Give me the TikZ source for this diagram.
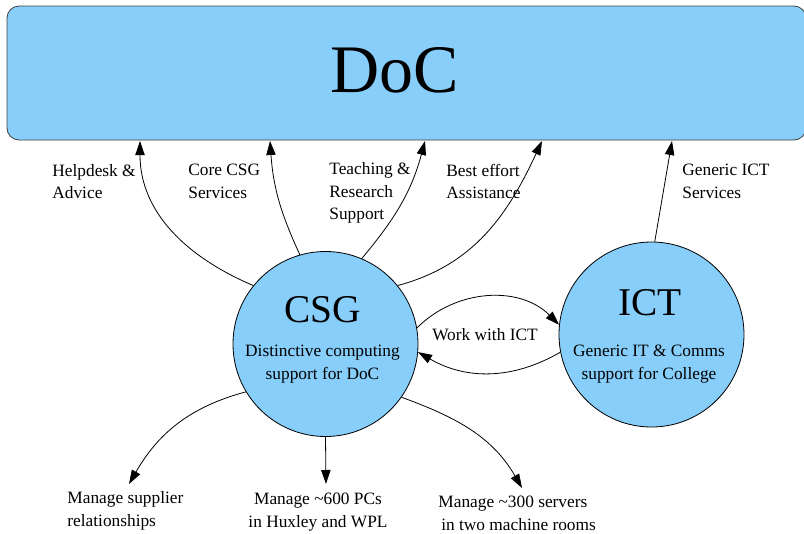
\documentclass[tikz,border=0pt]{standalone}
\usepackage{fontspec}
\setmainfont{Liberation Serif}
\usetikzlibrary{arrows.meta}
\definecolor{skyfill}{HTML}{87CEFA}

\begin{document}
\begin{tikzpicture}[x=0.75pt, y=-0.75pt, line width=0.6pt,
		hub/.style={circle, draw, fill=skyfill, minimum size=138.75pt, inner sep=0pt},
		docbox/.style={rectangle, rounded corners=9pt, draw=black!75, fill=skyfill,
			minimum width=599.25pt, minimum height=100.5pt, inner sep=0pt},
		flow/.style={-{Triangle[length=10.5pt,width=7pt]}},
		hubname/.style={font=\fontsize{29.5}{30}\selectfont, inner sep=0pt},
		hubtext/.style={font=\fontsize{13}{17}\selectfont, inner sep=0pt, align=center},
		note/.style={font=\fontsize{13}{17}\selectfont, inner sep=0pt, align=left, anchor=west},
		midnote/.style={font=\fontsize{13}{17}\selectfont, inner sep=0pt, align=center}]
	% ==================================================
	% 0. page size (pixels of the picture)
	% ==================================================
	\useasboundingbox (0,0) rectangle (804,533);

	% 1. DoC box on top
	\node[docbox] (doc) at (406.5,73) {};
	\node[font=\fontsize{51}{51}\selectfont, inner sep=0pt] (docname) at (395,70) {DoC};

	% 2. the two groups
	\node[hub] (csg) at (325.5,344) {};
	\node[hubname] (csgname) at (322.5,310) {CSG};
	\node[hubtext] (csgtext) at (322.5,364) {Distinctive computing\\support for DoC};

	\node[hub] (ict) at (651.5,334.5) {};
	\node[hubname] (ictname) at (650,303) {ICT};
	\node[hubtext] (icttext) at (649,364) {Generic IT \& Comms\\support for College};

	% 3. where the arrows meet DoC / the tasks below
	\coordinate (inHelp)  at (140,141);
	\coordinate (inCore)  at (270,141);
	\coordinate (inTeach) at (425,141);
	\coordinate (inBest)  at (542,141);
	\coordinate (inICT)   at (672,141);
	\coordinate (toSupp)  at (129,484);
	\coordinate (toPCs)   at (326,484);
	\coordinate (toServ)  at (522,488);

	% 4. services given to DoC
	\draw[flow] (csg.141) to[out=157, in=-90] (inHelp);
	\draw[flow] (csg.106) to[out=115, in=-86] (inCore);
	\draw[flow] (csg.67)  to[out=50, in=-105] (inTeach);
	\draw[flow] (csg.39)  to[out=15, in=-115] (inBest);
	\draw[flow] (ict.88) -- (inICT);

	\node[note] (help)  at (52,181.5)  {Helpdesk \&\\Advice};
	\node[note] (core)  at (188,181.5) {Core CSG\\Services};
	\node[note] (teach) at (329,193)   {Teaching \&\\Research\\Support};
	\node[note] (best)  at (446,181.5) {Best effort\\Assistance};
	\node[note] (gen)   at (682,181.5) {Generic ICT\\Services};

	% 5. CSG <-> ICT
	\draw[flow] (csg.10) to[out=45, in=135] (ict.174);
	\draw[flow] (ict.191) to[out=-150, in=-30] (csg.-5);
	\node[midnote] (work) at (485,335) {Work with ICT};

	% 6. tasks below CSG
	\draw[flow] (csg.211) to[out=195, in=60] (toSupp);
	\draw[flow] (csg.south) -- (toPCs);
	\draw[flow] (csg.-35) to[out=-20, in=120] (toServ);

	\node[note] (supp) at (67,511) {Manage supplier\\relationships};
	\node[midnote] (pcs) at (318,512) {Manage \textasciitilde600 PCs\\in Huxley and WPL};
	\node[note] (serv) at (438,513) {Manage \textasciitilde300 servers\\\hspace*{2.2pt}in two machine rooms};
\end{tikzpicture}
\end{document}
